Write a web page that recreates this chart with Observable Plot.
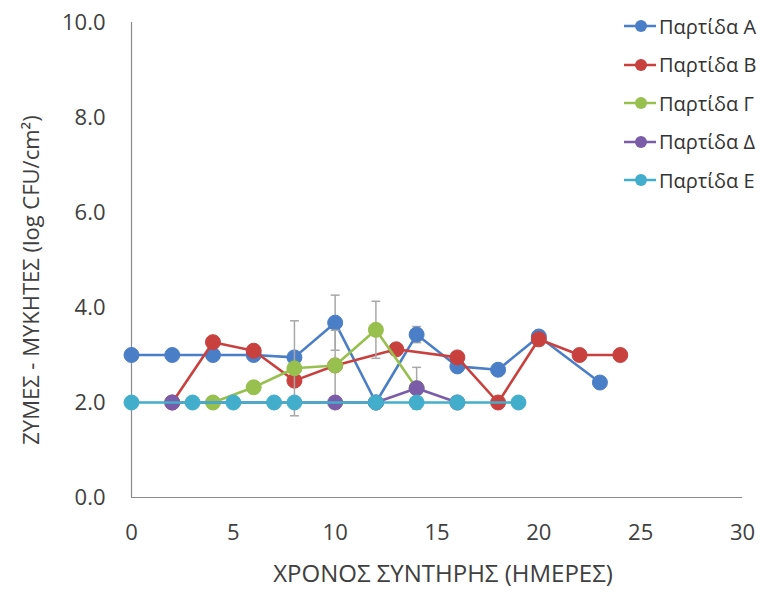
<!DOCTYPE html>
<html>
<head>
<meta charset="utf-8">
<script src="https://cdn.jsdelivr.net/npm/d3@7"></script>
<script src="https://cdn.jsdelivr.net/npm/@observablehq/plot@0.6"></script>
<style>
  html, body { margin: 0; padding: 0; background: #fff; }
  #wrap { position: relative; width: 767px; height: 595px; font-family: "Open Sans", sans-serif; }
  #legend { position: absolute; left: 623px; top: 7px; }
  .item { display: flex; align-items: center; height: 38.5px; font-size: 20px; color: #333; white-space: nowrap; }
  .item svg { margin-right: 2px; }
</style>
</head>
<body>
<div id="wrap"><div id="legend"></div></div>
<script>
const seriesNames = ["Παρτίδα Α", "Παρτίδα Β", "Παρτίδα Γ", "Παρτίδα Δ", "Παρτίδα Ε"];
const seriesColors = ["#4a7ec6", "#c9413f", "#98c04f", "#7b5ca8", "#43aecb"];

const daysA = [0, 2, 4, 6, 8, 10, 12, 14, 16, 18, 20, 23];
const valsA = [3.0, 3.0, 3.0, 3.0, 2.95, 3.68, 2.0, 3.43, 2.76, 2.69, 3.39, 2.42];
const errA  = [0, 0, 0, 0, 0, 0.58, 0, 0.17, 0, 0, 0, 0];

const daysB = [2, 4, 6, 8, 10, 13, 16, 18, 20, 22, 24];
const valsB = [2.0, 3.27, 3.09, 2.46, 2.78, 3.12, 2.95, 2.0, 3.33, 3.0, 3.0];
const errB  = [0, 0, 0, 0, 0, 0, 0, 0, 0, 0, 0];

const daysG = [4, 6, 8, 10, 12, 14];
const valsG = [2.0, 2.32, 2.72, 2.78, 3.53, 2.3];
const errG  = [0, 0, 1.0, 0.74, 0.6, 0];

const daysD = [2, 10, 12, 14, 16];
const valsD = [2.0, 2.0, 2.0, 2.3, 2.0];
const errD  = [0, 0, 0, 0.44, 0];

const daysE = [0, 3, 5, 7, 8, 12, 14, 16, 19];
const valsE = [2.0, 2.0, 2.0, 2.0, 2.0, 2.0, 2.0, 2.0, 2.0];
const errE  = [0, 0, 0, 0, 0, 0, 0, 0, 0];

const xTicks = [0, 5, 10, 15, 20, 25, 30];
const yTicks = [0, 2, 4, 6, 8, 10];
const xTitle = "ΧΡΟΝΟΣ ΣΥΝΤΗΡΗΣ (ΗΜΕΡΕΣ)";
const yTitle = "ΖΥΜΕΣ - ΜΥΚΗΤΕΣ (log CFU/cm²)";

const raw = [[daysA, valsA, errA], [daysB, valsB, errB], [daysG, valsG, errG], [daysD, valsD, errD], [daysE, valsE, errE]];
const seriesData = raw.map(([d, v, e], i) => d.map((day, j) => ({series: seriesNames[i], day, value: v[j], err: e[j]})));

const marks = [
  Plot.ruleX([0], {stroke: "#8a8a8a", strokeWidth: 1.2}),
  Plot.ruleY([0], {stroke: "#8a8a8a", strokeWidth: 1.2}),
  Plot.axisX({ticks: xTicks, tickSize: 0, tickPadding: 27, label: null, fill: "#404040", fontSize: 22}),
  Plot.axisY({ticks: yTicks, tickSize: 0, tickPadding: 26, tickFormat: d => d.toFixed(1), label: null, fill: "#404040", fontSize: 22}),
  Plot.text([xTitle], {frameAnchor: "bottom", dx: 6, dy: 84, fontSize: 24, fill: "#404040"}),
  Plot.text([yTitle], {frameAnchor: "left", textAnchor: "middle", dx: -100, dy: 20, rotate: -90, fontSize: 22, fill: "#404040"})
];

seriesData.forEach((data, i) => {
  const eb = data.filter(d => d.err > 0);
  marks.push(
    Plot.ruleX(eb, {x: "day", y1: d => d.value - d.err, y2: d => d.value + d.err, stroke: "#a8a8a8", strokeWidth: 1.5}),
    Plot.link(eb, {x1: d => d.day - 0.22, x2: d => d.day + 0.22, y1: d => d.value + d.err, y2: d => d.value + d.err, stroke: "#a8a8a8", strokeWidth: 1.5}),
    Plot.link(eb, {x1: d => d.day - 0.22, x2: d => d.day + 0.22, y1: d => d.value - d.err, y2: d => d.value - d.err, stroke: "#a8a8a8", strokeWidth: 1.5}),
    Plot.line(data, {x: "day", y: "value", stroke: seriesColors[i], strokeWidth: 2.6}),
    Plot.dot(data, {x: "day", y: "value", r: 7.5, fill: seriesColors[i], stroke: seriesColors[i], strokeWidth: 1})
  );
});

const chart = Plot.plot({
  width: 767,
  height: 595,
  marginLeft: 131,
  marginRight: 25,
  marginTop: 22,
  marginBottom: 98,
  x: {domain: [0, 30]},
  y: {domain: [0, 10]},
  style: {fontFamily: "Open Sans, sans-serif", fontSize: "22px", background: "#fff", overflow: "visible"},
  marks
});
document.getElementById("wrap").prepend(chart);

const legend = document.getElementById("legend");
seriesNames.forEach((name, i) => {
  const row = document.createElement("div");
  row.className = "item";
  row.innerHTML = `<svg width="34" height="16"><line x1="1" y1="8" x2="33" y2="8" stroke="${seriesColors[i]}" stroke-width="2.5"/><circle cx="18" cy="8" r="6" fill="${seriesColors[i]}"/></svg><span>${name}</span>`;
  legend.appendChild(row);
});
</script>
</body>
</html>
